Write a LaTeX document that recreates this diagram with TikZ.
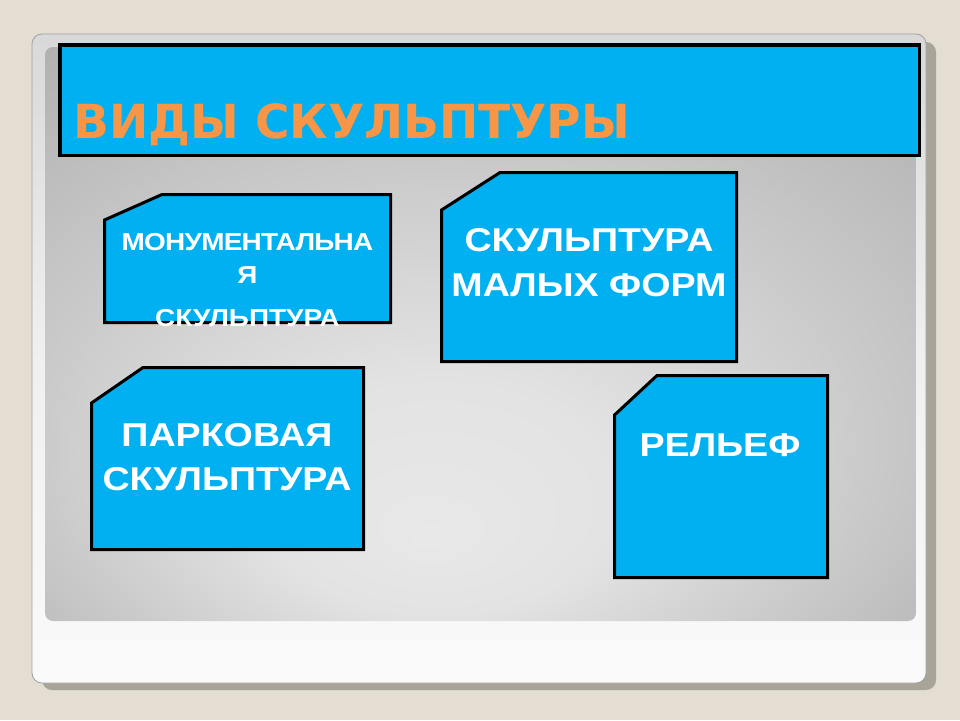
\documentclass[tikz,border=0pt]{standalone}
\usepackage{fontspec}
\setmainfont{Liberation Sans}
\newfontfamily\titlefont{DejaVu Sans}
\newfontfamily\boxfont[FakeStretch=1.14]{Liberation Sans}
\definecolor{bgbeige}{HTML}{E3DDD2}
\definecolor{shadowc}{HTML}{A9A498}
\definecolor{boxcyan}{HTML}{00B0F0}
\definecolor{titleorange}{HTML}{F79646}
\definecolor{panelline}{HTML}{A0A0A0}
\pgfdeclareradialshading{panelshade}{\pgfpoint{-3bp}{-18bp}}{color(0bp)=(white!91!black); color(10bp)=(white!89!black); color(40bp)=(white!68!black); color(50bp)=(white!65!black)}
\tikzset{
  boxstyle/.style={fill=boxcyan, draw=black, line width=3pt, line join=miter},
  lbl/.style={text=white, inner sep=0pt, align=center, anchor=north},
}
\begin{document}
\begin{tikzpicture}[x=1pt,y=-1pt]
\useasboundingbox (0,0) rectangle (960,720);
\fill[bgbeige] (0,0) rectangle (960,720);
% outer panel with shadow
\fill[shadowc, rounded corners=10pt] (42,42) rectangle (936,690);
\shade[top color=white!85!black, bottom color=white!98!black, middle color=white!94!black, rounded corners=10pt] (32,34) rectangle (926,683);
\draw[panelline, line width=0.8pt, rounded corners=10pt] (32,34) rectangle (926,683);
% inner gradient panel
\shade[shading=panelshade, rounded corners=8pt] (45,47) rectangle (916,621);
% title box
\draw[boxstyle, line width=3.5pt] (59.75,44.75) rectangle (919.25,155.25);
\node (title) [anchor=base west, inner sep=0pt, text=titleorange, font=\titlefont\bfseries\fontsize{47}{56}\selectfont] at (73,138) {ВИДЫ СКУЛЬПТУРЫ};
% boxes
\draw[boxstyle] (104.5,220) -- (162,194.5) -- (390.5,194.5) -- (390.5,322.5) -- (104.5,322.5) -- cycle;
\draw[boxstyle] (441.5,210) -- (500,172.5) -- (736.5,172.5) -- (736.5,361.5) -- (441.5,361.5) -- cycle;
\draw[boxstyle] (91.5,403) -- (143,367.5) -- (363.5,367.5) -- (363.5,549.5) -- (91.5,549.5) -- cycle;
\draw[boxstyle] (614.5,415) -- (657,375.5) -- (827.5,375.5) -- (827.5,577.5) -- (614.5,577.5) -- cycle;
% labels
\node (mon) [lbl, font=\boxfont\bfseries\fontsize{24.5}{33}\selectfont] at (247.5,233)
  {{\addfontfeatures{LetterSpace=-3}МОНУМЕНТАЛЬНА}\\Я\\[10pt]СКУЛЬПТУРА};
\node (mal) [lbl, font=\boxfont\bfseries\fontsize{33}{45}\selectfont] at (589,228) {СКУЛЬПТУРА\\МАЛЫХ ФОРМ};
\node (park) [lbl, font=\boxfont\bfseries\fontsize{33}{44}\selectfont] at (227,423) {ПАРКОВАЯ\\СКУЛЬПТУРА};
\node (rel) [lbl, font=\boxfont\bfseries\fontsize{33}{44}\selectfont] at (720,433) {РЕЛЬЕФ};
\end{tikzpicture}
\end{document}
